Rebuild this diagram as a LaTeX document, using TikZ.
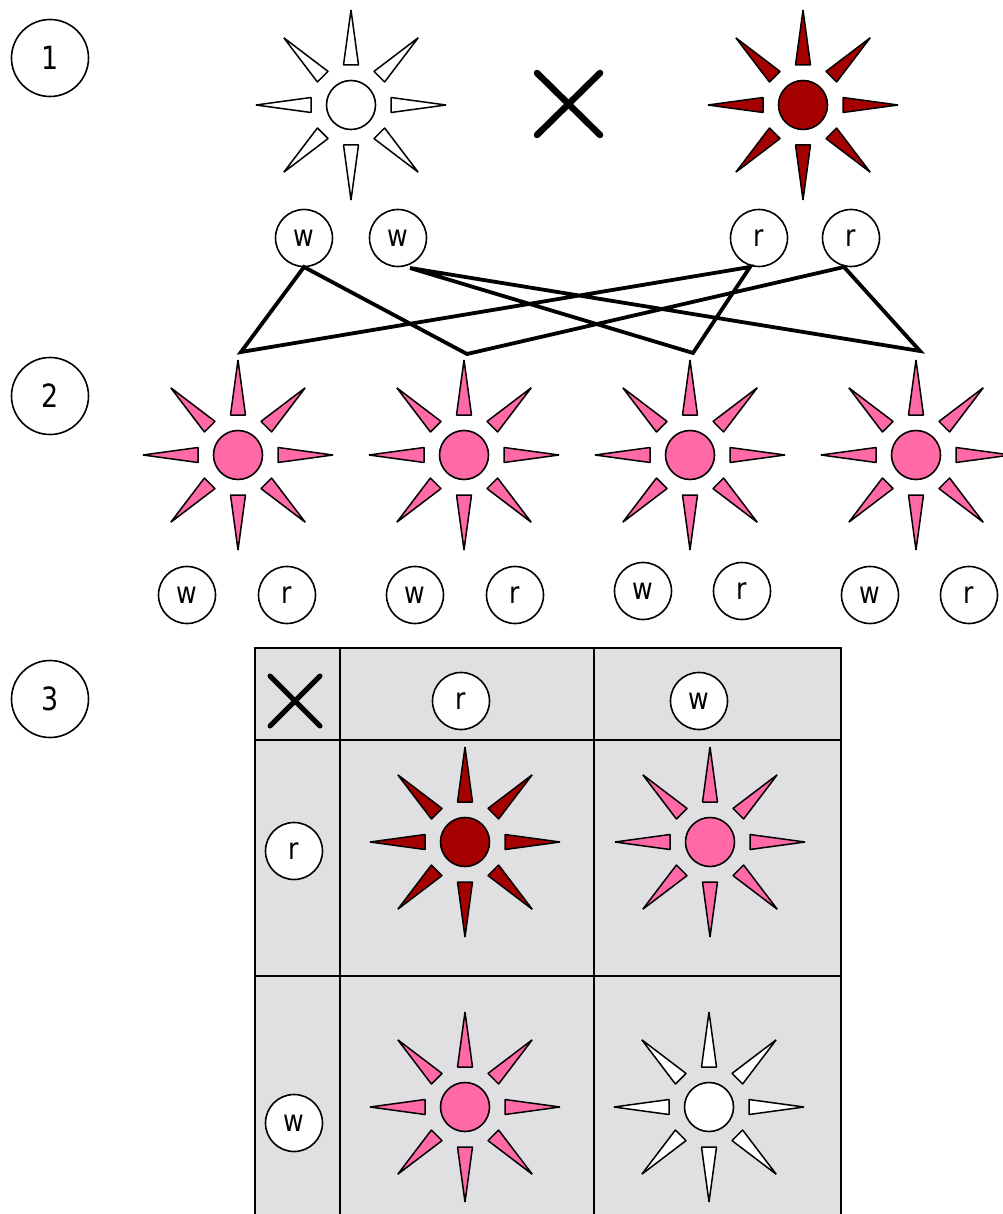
\documentclass[tikz,border=0pt]{standalone}
\usepackage{fontspec}
\setmainfont{DejaVu Sans}[FakeStretch=0.84]
\usepackage{tikz}
\definecolor{darkred}{HTML}{A50000}
\definecolor{hotpink}{HTML}{FF69A5}
\definecolor{tablegray}{HTML}{E0E0E3}
\tikzstyle{allele} = [circle, draw, fill=white, line width=1.6pt, minimum size=57pt, inner sep=0pt, font=\fontsize{30}{30}\selectfont]
\tikzstyle{stepnum} = [circle, draw, fill=white, line width=1.6pt, minimum size=77pt, inner sep=0pt, font=\fontsize{32}{32}\selectfont]
\tikzstyle{petal} = [draw, line width=1.5pt, line join=bevel]
\tikzstyle{heart} = [circle, draw, line width=1.6pt, minimum size=49pt, inner sep=0pt]
\tikzstyle{crossline} = [line width=6.5pt, line cap=round]
\tikzstyle{cross} = [line width=3.8pt, line join=miter]
\newcommand{\flower}[4]{
  \foreach \a in {0,45,...,315}
    \draw[petal,fill=#4,shift={(#2,#3)},rotate=\a] (40,-7.5) -- (95,0) -- (40,7.5) -- cycle;
  \node[heart,fill=#4] (#1) at (#2,#3) {};
}

\begin{document}
\begin{tikzpicture}[x=1pt,y=-1pt]
  \useasboundingbox (0,0) rectangle (1002,1214);
  % step numbers
  \node[stepnum] (one) at (50,58) {1};
  \node[stepnum] (two) at (50,396) {2};
  \node[stepnum] (three) at (50,699) {3};
  % parents
  \flower{pw}{351}{105}{white}
  \flower{pr}{803}{105}{darkred}
  \coordinate (xa) at (537,73);
  \coordinate (xb) at (600,135);
  \coordinate (xc) at (600,73);
  \coordinate (xd) at (537,135);
  \draw[crossline] (xa) -- (xb);
  \draw[crossline] (xc) -- (xd);
  \node[allele] (wa) at (304,238) {w};
  \node[allele] (wb) at (398,238) {w};
  \node[allele] (ra) at (759,238) {r};
  \node[allele] (rb) at (851,238) {r};
  % second generation
  \flower{fa}{238}{455}{hotpink}
  \flower{fb}{464}{455}{hotpink}
  \flower{fc}{690}{455}{hotpink}
  \flower{fd}{916}{455}{hotpink}
  \node[allele] (faw) at (187,595) {w};
  \node[allele] (far) at (287,595) {r};
  \node[allele] (fbw) at (415,595) {w};
  \node[allele] (fbr) at (515,595) {r};
  \node[allele] (fcw) at (643,591) {w};
  \node[allele] (fcr) at (742,591) {r};
  \node[allele] (fdw) at (870,595) {w};
  \node[allele] (fdr) at (969,595) {r};
  % crossing lines
  \coordinate (wac) at (304,267);
  \coordinate (wbc) at (410,268);
  \coordinate (rac) at (750,267);
  \coordinate (rbc) at (844,267);
  \coordinate (fat) at (241,352);
  \coordinate (fbt) at (467,354);
  \coordinate (fct) at (693,353);
  \coordinate (fdt) at (920,351);
  \draw[cross] (fat) -- (wac) -- (fbt) -- (rbc) -- (fdt) -- (wbc) -- (fct) -- (rac) -- cycle;
  % table
  \fill[tablegray] (255,648) rectangle (841,1214);
  \draw[line width=1.6pt] (255,1214) -- (255,648) -- (841,648) -- (841,1214);
  \draw[line width=1.6pt] (340,648) -- (340,1214);
  \draw[line width=1.6pt] (594,648) -- (594,1214);
  \draw[line width=1.6pt] (255,740) -- (841,740);
  \draw[line width=1.6pt] (255,976) -- (841,976);
  \coordinate (ta) at (270,676);
  \coordinate (tb) at (320,726);
  \coordinate (tc) at (320,676);
  \coordinate (td) at (270,726);
  \draw[crossline,line width=5pt] (ta) -- (tb);
  \draw[crossline,line width=5pt] (tc) -- (td);
  \node[allele] (tr) at (461,701) {r};
  \node[allele] (tw) at (699,701) {w};
  \node[allele] (lr) at (294,851) {r};
  \node[allele] (lw) at (294,1123) {w};
  \flower{trr}{465}{842}{darkred}
  \flower{trw}{710}{842}{hotpink}
  \flower{twr}{465}{1107}{hotpink}
  \flower{tww}{709}{1107}{white}
\end{tikzpicture}
\end{document}
